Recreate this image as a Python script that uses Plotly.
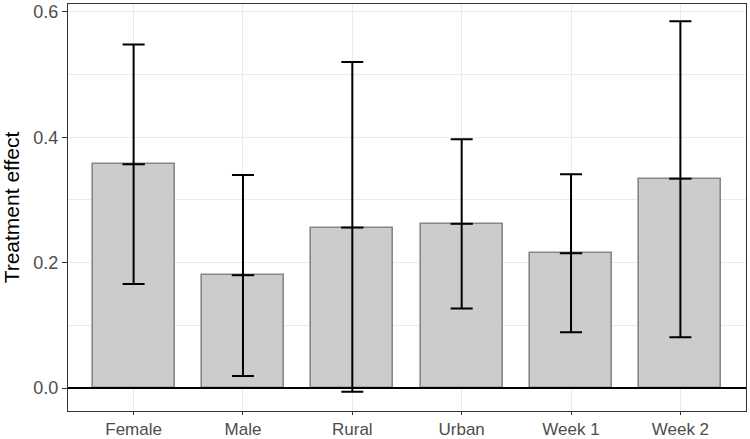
import plotly.graph_objects as go

categories = ["Female", "Male", "Rural", "Urban", "Week 1", "Week 2"]
effects = [0.357, 0.180, 0.256, 0.262, 0.215, 0.334]
ci_upper = [0.548, 0.340, 0.520, 0.397, 0.341, 0.585]
ci_lower = [0.166, 0.019, -0.006, 0.127, 0.089, 0.081]
y_ticks = [0.0, 0.2, 0.4, 0.6]
y_tick_labels = ["0.0", "0.2", "0.4", "0.6"]
y_minor = [0.1, 0.3, 0.5]

err_plus = [u - e for u, e in zip(ci_upper, effects)]
err_minus = [e - l for e, l in zip(effects, ci_lower)]

FONT = "Liberation Sans, Arial, sans-serif"

fig = go.Figure()
fig.add_trace(go.Bar(
    x=categories, y=effects, width=0.75,
    marker=dict(color="#cccccc", line=dict(color="#878787", width=1.6)),
    showlegend=False, hoverinfo="skip",
))
fig.add_trace(go.Scatter(
    x=categories, y=effects, mode="markers",
    marker=dict(symbol="line-ew", size=16, color="black",
                line=dict(color="black", width=2)),
    error_y=dict(type="data", symmetric=False, array=err_plus,
                 arrayminus=err_minus, color="black", thickness=2, width=11),
    showlegend=False,
))

fig.add_shape(type="line", xref="paper", x0=0, x1=1, yref="y", y0=0, y1=0,
              line=dict(color="black", width=1.8), layer="above")

fig.update_layout(
    width=750, height=439,
    margin=dict(l=68, r=4, t=4, b=28, autoexpand=False),
    paper_bgcolor="white", plot_bgcolor="white",
    font=dict(family=FONT, color="#4d4d4d"),
    bargap=0,
    xaxis=dict(
        type="category", range=[-0.6, 5.6], automargin=False,
        showgrid=True, gridcolor="#ebebeb", gridwidth=1.1,
        ticks="outside", ticklen=3, tickwidth=1.1, tickcolor="#333333",
        tickfont=dict(size=17, color="#4d4d4d", family=FONT),
        ticklabelstandoff=0,
        showline=True, mirror=True, linecolor="#333333", linewidth=1.1,
        zeroline=False,
    ),
    yaxis=dict(
        range=[-0.0367, 0.6127], automargin=False,
        tickvals=y_ticks, ticktext=y_tick_labels,
        showgrid=True, gridcolor="#ebebeb", gridwidth=1.1,
        minor=dict(tickvals=y_minor, showgrid=True, gridcolor="#ebebeb",
                   gridwidth=0.6, ticks=""),
        ticks="outside", ticklen=5, tickwidth=1.1, tickcolor="#333333",
        tickfont=dict(size=18, color="#4d4d4d", family=FONT),
        showline=True, mirror=True, linecolor="#333333", linewidth=1.1,
        zeroline=False,
        title=dict(text="Treatment effect", standoff=16,
                   font=dict(size=21, color="black", family=FONT)),
    ),
)

fig.write_html("out.html",
               config={"displayModeBar": False},
               post_script="document.body.style.margin='0';document.body.style.padding='0';")
